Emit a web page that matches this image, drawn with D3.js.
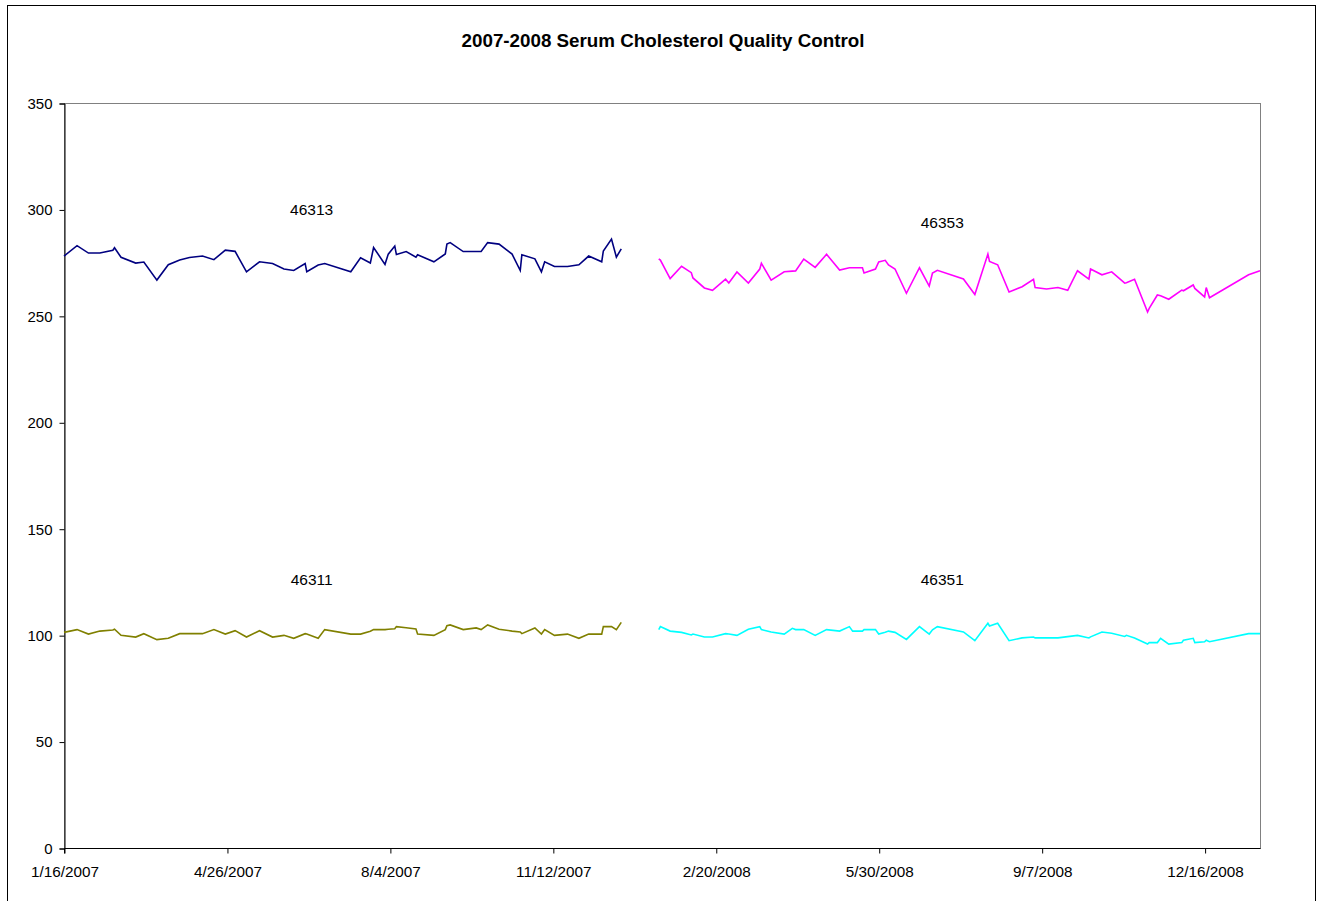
<!DOCTYPE html>
<html><head><meta charset="utf-8">
<script src="https://cdn.jsdelivr.net/npm/d3@7"></script>
<style>
body{margin:0;background:#fff;}
text{font-family:"Liberation Sans",Arial,sans-serif;fill:#000;}
</style>
</head><body>
<svg id="chart" width="1319" height="901"></svg>
<script>
// ---------- data ----------
const title = "2007-2008 Serum Cholesterol Quality Control";

const dates2007 = ["2007-01-16","2007-01-24","2007-01-31","2007-02-07","2007-02-15","2007-02-16","2007-02-20","2007-03-01","2007-03-06","2007-03-14","2007-03-21","2007-03-28","2007-04-03","2007-04-11","2007-04-18","2007-04-25","2007-05-01","2007-05-08","2007-05-16","2007-05-24","2007-05-31","2007-06-06","2007-06-13","2007-06-14","2007-06-21","2007-06-25","2007-07-11","2007-07-17","2007-07-23","2007-07-25","2007-08-01","2007-08-03","2007-08-07","2007-08-08","2007-08-14","2007-08-20","2007-08-21","2007-08-31","2007-09-07","2007-09-08","2007-09-10","2007-09-18","2007-09-26","2007-09-29","2007-10-03","2007-10-10","2007-10-18","2007-10-23","2007-10-24","2007-11-01","2007-11-05","2007-11-07","2007-11-13","2007-11-21","2007-11-28","2007-12-04","2007-12-12","2007-12-13","2007-12-18","2007-12-21","2007-12-24"];
const ctrl46313 = [278.1,283.0,279.5,279.5,280.8,282.0,277.5,274.8,275.3,266.8,274.0,276.2,277.4,278.1,276.4,280.9,280.3,270.7,275.4,274.6,272.0,271.3,274.6,270.7,273.9,274.6,270.7,277.3,274.8,282.1,274.2,279.0,282.8,278.8,280.2,277.6,278.7,275.4,279.1,283.7,284.4,280.2,280.2,280.2,284.4,283.7,279.0,271.3,278.7,276.8,270.7,275.4,273.2,273.2,274.0,278.1,275.4,280.5,286.1,277.6,281.5];
const ctrl46311 = [101.3,102.6,100.5,101.9,102.4,102.8,99.9,99.1,100.7,97.9,98.5,100.7,100.7,100.7,102.6,100.5,102.1,99.1,102.1,99.1,99.9,98.5,100.7,100.5,98.5,102.6,100.5,100.5,101.8,102.6,102.6,102.8,103.0,104.0,103.5,102.9,100.5,99.9,102.6,104.4,104.8,102.6,103.4,102.6,104.8,102.8,101.9,101.5,100.7,103.4,100.5,102.6,99.9,100.5,98.5,100.5,100.5,104.0,104.0,102.6,106.0];

const dates2008 = ["2008-01-16","2008-01-17","2008-01-23","2008-01-30","2008-02-05","2008-02-06","2008-02-13","2008-02-18","2008-02-26","2008-02-28","2008-03-04","2008-03-11","2008-03-18","2008-03-19","2008-03-25","2008-04-02","2008-04-07","2008-04-09","2008-04-14","2008-04-21","2008-04-28","2008-05-06","2008-05-12","2008-05-14","2008-05-20","2008-05-21","2008-05-28","2008-05-30","2008-06-03","2008-06-05","2008-06-09","2008-06-16","2008-06-24","2008-06-30","2008-07-02","2008-07-05","2008-07-21","2008-07-28","2008-08-05","2008-08-06","2008-08-11","2008-08-18","2008-08-26","2008-09-02","2008-09-03","2008-09-10","2008-09-17","2008-09-23","2008-09-29","2008-10-06","2008-10-07","2008-10-14","2008-10-20","2008-10-28","2008-10-29","2008-11-03","2008-11-11","2008-11-12","2008-11-17","2008-11-19","2008-11-24","2008-12-02","2008-12-03","2008-12-09","2008-12-10","2008-12-16","2008-12-17","2008-12-19","2009-01-12","2009-01-19"];
const ctrl46353 = [276.8,276.2,267.5,273.3,270.3,267.8,263.1,262.0,267.2,265.4,270.6,265.4,272.0,274.7,266.8,270.7,271.0,271.1,276.7,272.8,278.9,271.5,272.6,272.6,272.6,270.1,272.0,275.3,276.1,273.9,272.0,260.6,272.6,264.0,270.1,271.4,267.3,260.0,279.0,275.6,274.0,261.2,263.7,267.2,263.3,262.6,263.3,262.0,271.2,267.3,272.0,269.3,270.7,265.4,265.6,267.2,251.8,253.5,259.8,259.4,257.8,262.1,261.8,264.5,262.9,258.9,263.3,258.5,269.3,271.2];
const ctrl46351 = [102.6,104.0,101.9,101.3,100.1,100.5,99.1,99.1,100.7,100.5,99.9,102.8,104.0,102.6,101.5,100.5,103.2,102.6,102.6,99.9,102.6,101.9,104.0,101.9,101.9,102.6,102.6,100.5,101.4,101.9,101.3,98.0,104.0,100.5,102.5,104.0,101.5,97.4,105.6,104.3,105.6,97.4,98.7,99.1,98.7,98.7,98.7,99.3,99.9,98.7,99.2,101.5,100.9,99.4,99.9,98.7,95.8,96.5,96.5,98.5,95.8,96.5,97.6,98.5,96.5,96.9,97.6,96.9,100.7,100.7];

const yTicks = [0,50,100,150,200,250,300,350];
const xTickLabels = ["1/16/2007","4/26/2007","8/4/2007","11/12/2007","2/20/2008","5/30/2008","9/7/2008","12/16/2008"];
const xDomain = ["2007-01-16","2009-01-19"];

const seriesNames = ["46313","46311","46353","46351"];
const seriesColors = ["#000080","#808000","#FF00FF","#00FFFF"];
const labelDates = ["2007-06-17","2007-06-17","2008-07-08","2008-07-08"];
const labelValues = [300,126,294,126];

// ---------- drawing ----------
const parse = d3.utcParse("%Y-%m-%d");
const parseTick = d3.utcParse("%m/%d/%Y");
const svg = d3.select("#chart");

const M = {left:64, right:1260, top:103, bottom:848};

const x = d3.scaleUtc().domain(xDomain.map(parse)).range([M.left, M.right]);
const y = d3.scaleLinear().domain([0,350]).range([M.bottom, M.top]);

// chart border
svg.append("rect").attr("x",7.5).attr("y",5.5).attr("width",1308).attr("height",910)
  .attr("fill","#fff").attr("stroke","#000").attr("stroke-width",1);

// plot area border (gray)
svg.append("rect").attr("x",M.left+0.5).attr("y",M.top+0.5)
  .attr("width",M.right-M.left).attr("height",M.bottom-M.top)
  .attr("fill","none").attr("stroke","#808080").attr("stroke-width",1);

// title
svg.append("text").attr("x",663).attr("y",47).attr("text-anchor","middle")
  .style("font-size","18.8px").style("font-weight","bold").text(title);

// y axis
const yAxis = d3.axisLeft(y).tickValues(yTicks).tickSize(5).tickPadding(7).tickFormat(d3.format("d"));
const gy = svg.append("g").attr("transform",`translate(${M.left+0.5},0.5)`).call(yAxis);
gy.select(".domain").attr("stroke","#000");
gy.selectAll(".tick line").attr("stroke","#000");
gy.selectAll(".tick text").style("font-size","15px").attr("fill","#000");

// x axis
const fmt = d => `${d.getUTCMonth()+1}/${d.getUTCDate()}/${d.getUTCFullYear()}`;
const xAxis = d3.axisBottom(x).tickValues(xTickLabels.map(parseTick)).tickSize(5).tickPadding(13).tickFormat(fmt);
const gx = svg.append("g").attr("transform",`translate(0.5,${M.bottom+0.5})`).call(xAxis);
gx.select(".domain").attr("stroke","#000").attr("d",`M${M.left},5V0H${M.right}`);
gx.selectAll(".tick line").attr("stroke","#000");
gx.selectAll(".tick text").style("font-size","15.3px").attr("fill","#000");

// lines
const line = d3.line().x(d => x(d[0])).y(d => y(d[1]));
const series = [
  [dates2007, ctrl46313],
  [dates2007, ctrl46311],
  [dates2008, ctrl46353],
  [dates2008, ctrl46351]
];
series.forEach((s,i) => {
  const pts = s[0].map((d,j) => [parse(d), s[1][j]]);
  svg.append("path").datum(pts).attr("d",line)
    .attr("fill","none").attr("stroke",seriesColors[i]).attr("stroke-width",1.6)
    .attr("stroke-linejoin","miter");
});

// series labels
seriesNames.forEach((n,i) => {
  svg.append("text").attr("x",x(parse(labelDates[i]))).attr("y",y(labelValues[i]))
    .attr("text-anchor","middle").attr("dominant-baseline","central")
    .style("font-size","15.5px").text(n);
});
</script>
</body></html>
